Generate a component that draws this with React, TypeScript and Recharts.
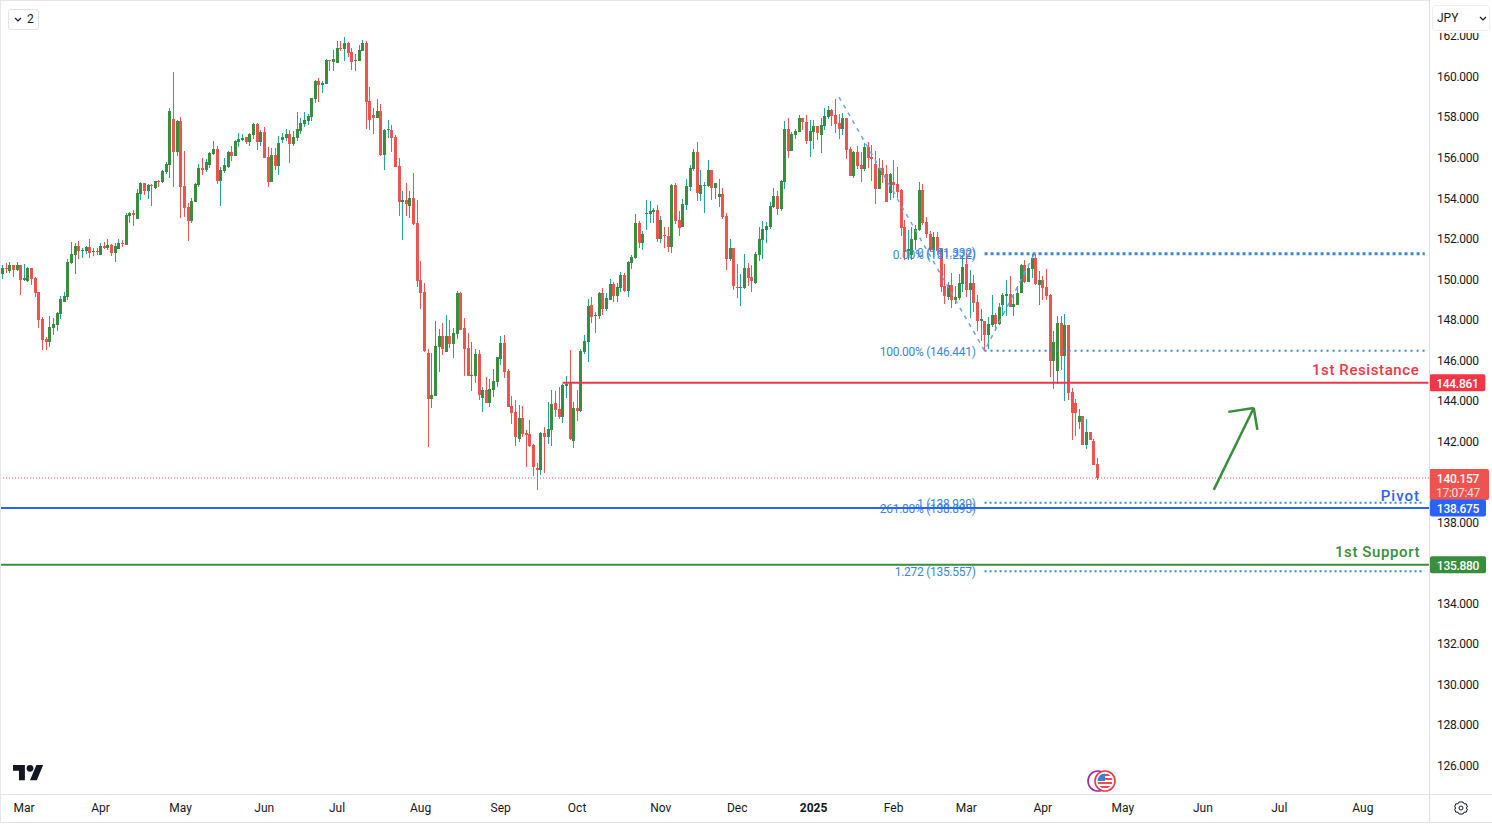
import React from 'react';
import { ComposedChart, Bar, Line, XAxis, YAxis, ReferenceLine } from 'recharts';

type Candle = [number, number, number, number]; // open, high, low, close

const candlesEarlyMar: Candle[] = [
[150.23,150.67,149.98,150.52],[150.52,150.77,150.27,150.47],[150.37,150.82,150.27,150.67],[150.67,150.67,150.08,150.42],[150.42,150.82,150.37,150.67],[150.67,150.67,149.19,149.93],
[149.93,150.72,149.88,150.03],[149.88,150.57,149.83,150.52],[150.52,150.52,149.68,149.98],[150.03,150.08,149.09,149.29],[149.34,149.34,147.56,147.96],[148.0,148.1,146.47,146.97],
[147.02,147.12,146.47,146.87],[146.87,148.15,146.62,147.61],[147.56,148.05,147.22,147.76],[147.71,148.35,147.41,148.3],[148.25,149.14,148.0,149.0],[148.84,149.34,148.84,149.14],
[149.09,150.97,148.94,150.82],[150.77,151.81,150.72,151.21],[151.16,151.76,150.23,151.61],[151.61,151.86,150.97,151.36],[151.36,151.51,151.02,151.41],[151.36,151.61,151.21,151.56],
[151.56,151.95,151.02,151.26],[151.31,151.51,151.11,151.36],[151.36,151.51,151.16,151.34],
];
const candlesApr: Candle[] = [
[151.16,151.76,151.16,151.61],[151.61,151.81,151.46,151.51],[151.51,151.95,151.41,151.66],[151.66,151.71,151.11,151.26],[151.26,151.76,150.82,151.61],[151.46,151.95,151.46,151.76],
[151.76,151.9,151.56,151.71],[151.66,153.24,151.66,153.14],[153.09,153.29,152.74,153.24],[153.24,153.39,152.6,153.14],[152.94,154.42,152.94,154.22],[154.17,154.77,153.88,154.72],
[154.72,154.72,154.13,154.32],[154.32,154.67,153.93,154.62],[154.62,154.67,153.58,154.57],[154.47,154.82,154.42,154.82],[154.83,154.87,154.52,154.77],[154.77,155.36,154.72,155.31],
[155.26,155.75,155.16,155.66],[155.61,158.42,154.97,158.27],[157.88,160.2,154.52,156.25],[156.25,157.83,156.05,157.78],
];
const candlesMay: Candle[] = [
[157.78,157.98,152.99,154.52],[154.57,156.3,153.04,153.48],[153.53,153.73,151.86,152.84],[152.84,153.98,152.74,153.83],[153.78,154.72,153.78,154.67],[154.62,155.66,154.52,155.46],
[155.46,155.95,155.11,155.36],[155.36,155.9,155.26,155.75],[155.61,156.25,155.46,156.2],[156.15,156.79,156.1,156.4],[156.4,156.54,154.67,154.82],[154.82,155.51,153.58,155.36],
[155.31,155.95,155.21,155.61],[155.51,156.3,155.46,156.25],[156.25,156.54,155.8,156.05],[156.05,156.84,156.05,156.79],[156.74,157.19,156.49,156.89],[156.84,157.14,156.79,156.94],
[156.99,156.99,156.64,156.74],[156.74,157.19,156.54,157.14],[157.09,157.68,156.89,157.63],[157.63,157.68,156.35,156.74],[156.74,157.33,156.54,157.23],
];
const candlesJun: Candle[] = [
[157.23,157.48,155.95,155.95],[156.0,156.49,154.52,154.77],[154.77,156.45,154.77,156.1],[156.1,156.45,155.36,155.56],[155.56,157.04,155.11,156.69],[156.84,157.19,156.69,156.99],
[156.94,157.38,156.79,157.14],[157.14,157.33,155.7,156.64],[156.64,157.28,156.54,156.99],[156.94,158.22,156.79,157.38],[157.28,157.93,157.14,157.68],[157.63,158.22,157.48,157.83],
[157.78,158.12,157.58,158.02],[157.98,158.91,157.78,158.91],[158.86,159.8,158.67,159.75],[159.75,159.9,158.72,159.56],[159.56,159.75,159.16,159.65],[159.6,160.84,159.6,160.79],
[160.79,160.79,160.25,160.74],[160.69,161.28,160.25,160.84],
];
const candlesJul: Candle[] = [
[160.64,161.73,160.64,161.38],[161.38,161.73,161.23,161.33],[161.33,161.92,160.74,161.63],[161.63,161.68,160.94,161.13],[161.18,161.38,160.3,160.69],[160.74,161.09,160.25,160.79],
[160.74,161.53,160.74,161.28],[161.23,161.78,161.23,161.63],[161.63,161.73,157.38,158.72],[158.77,159.46,157.33,157.83],[158.07,158.42,157.14,157.93],[157.93,158.86,157.93,158.27],
[158.27,158.62,156.05,156.1],[156.1,157.38,155.36,157.33],[157.33,157.83,156.94,157.38],[157.33,157.58,156.25,156.94],[156.99,157.09,155.51,155.51],[155.56,155.95,153.09,153.78],
[153.78,154.32,151.9,153.88],[153.88,154.72,153.09,153.68],[153.58,154.32,152.99,153.98],[153.98,155.21,152.64,152.69],[152.74,153.88,149.58,149.88],
];
const candlesAug: Candle[] = [
[149.93,150.87,148.5,149.29],[149.34,149.78,146.38,146.43],[146.33,146.52,141.69,144.06],[144.06,146.33,143.61,144.25],[144.2,147.91,144.2,146.67],[146.62,147.51,145.39,147.17],
[147.17,147.81,146.23,146.52],[146.38,148.2,146.38,147.17],[147.17,147.96,146.57,146.77],[146.77,147.56,146.08,147.31],[147.26,149.39,147.02,149.29],[149.29,149.34,147.46,147.46],
[147.56,148.05,145.19,146.52],[146.57,147.31,145.19,145.19],[145.19,146.87,144.45,145.24],[145.19,146.52,144.85,146.28],[146.28,146.47,144.01,144.25],[144.11,144.65,143.41,144.5],
[144.5,145.14,143.86,143.86],[143.86,145.04,143.66,144.55],[144.5,145.54,144.16,144.95],[144.9,146.13,144.65,146.13],
];
const candlesSep: Candle[] = [
[146.03,147.17,145.74,146.82],[146.82,147.22,145.09,145.39],[145.44,145.54,143.66,143.66],[143.71,144.2,142.82,143.37],[143.42,144.0,141.74,142.18],[142.08,143.76,141.94,143.12],
[143.12,143.71,142.18,142.33],[142.38,142.53,140.7,142.28],[142.33,143.02,141.69,141.74],[141.79,141.84,140.26,140.7],[140.65,140.9,139.56,140.55],[140.55,142.43,140.31,142.38],
[142.38,142.68,140.4,142.18],[142.18,143.91,141.84,142.58],[142.53,144.5,141.74,143.81],[143.86,144.45,143.17,143.51],[143.56,144.65,143.07,143.17],[143.17,144.8,142.87,144.75],
[144.7,145.19,144.11,144.8],[144.85,146.48,142.03,142.08],[141.98,143.91,141.64,143.61],
];
const candlesOct: Candle[] = [
[143.61,144.5,142.97,143.47],[143.47,146.52,143.42,146.43],[146.38,147.22,146.28,146.92],[146.87,148.99,145.88,148.65],[148.7,149.09,147.81,148.1],[148.15,148.35,147.32,148.2],
[148.15,149.34,148.0,149.29],[149.29,149.54,148.2,148.5],[148.5,149.29,148.4,149.04],[148.94,149.98,148.94,149.73],[149.73,149.83,148.85,149.14],[149.14,149.78,148.85,149.59],
[149.54,150.33,149.34,150.18],[150.18,150.28,149.34,149.39],[149.39,150.87,149.09,150.82],[150.77,151.17,150.47,151.07],[151.02,153.19,150.97,152.74],[152.74,152.84,151.51,151.76],
[151.76,152.35,151.41,152.2],[153.19,153.88,152.4,153.24],[153.19,153.83,152.74,153.34],[153.29,153.49,152.74,153.39],[153.39,153.63,151.81,151.96],
];
const candlesNov: Candle[] = [
[151.96,153.09,151.76,152.89],[152.15,152.55,151.51,152.1],[152.1,152.55,151.31,151.56],[151.56,154.67,151.26,154.62],[154.62,154.72,152.7,152.84],[152.89,153.34,152.1,152.5],
[152.55,153.93,152.55,153.68],[153.63,154.92,153.39,154.57],[154.52,155.61,154.32,155.46],[155.41,156.4,155.31,156.25],[156.25,156.74,153.83,154.23],[154.18,155.36,153.83,154.62],
[154.57,154.77,153.24,154.62],[154.57,155.85,154.52,155.36],[155.36,155.36,153.88,154.47],[154.47,154.72,153.93,154.72],[154.03,154.92,153.54,154.18],[154.18,154.47,152.94,153.04],
[153.09,153.24,150.43,150.97],[150.97,151.95,150.87,151.51],[151.51,151.51,149.44,149.63],
];
const candlesDec: Candle[] = [
[149.59,150.72,149.04,149.54],[149.54,150.23,148.65,149.59],[149.54,151.21,149.49,150.52],[150.52,150.77,149.63,150.03],[150.08,150.67,149.34,149.88],[149.78,151.31,149.73,151.21],
[151.16,152.55,150.87,151.95],[151.9,152.84,150.97,152.45],[152.4,152.79,151.76,152.6],[152.55,153.78,152.45,153.58],[153.53,154.47,153.48,154.08],[154.08,154.32,153.14,153.43],
[153.43,154.87,153.34,154.82],[154.77,157.78,154.42,157.38],[157.38,157.93,155.95,156.3],[156.3,157.24,156.3,157.14],[157.09,157.38,156.89,157.29],[157.24,158.07,157.24,157.93],
[157.93,157.93,157.33,157.73],[157.73,158.07,156.64,156.79],[156.79,157.83,156.0,157.29],
];
const candlesJan: Candle[] = [
[157.24,157.83,156.4,157.53],[157.53,157.53,156.84,157.19],[157.09,157.93,156.2,157.58],[157.53,158.42,157.33,158.03],[157.98,158.52,157.88,158.32],[158.32,158.37,157.53,158.03],
[158.07,158.86,157.19,157.63],[157.68,158.12,156.89,157.38],[157.38,158.17,157.09,157.93],[157.93,157.93,155.9,156.35],[156.4,156.5,155.06,155.06],[155.06,156.3,154.97,156.25],
[156.25,156.54,155.41,155.56],[155.6,156.25,154.77,155.41],[155.41,156.69,155.31,156.5],[156.5,156.74,155.46,155.95],[156.0,156.59,154.82,155.9],[155.66,156.3,153.68,154.42],
[154.42,155.95,154.42,155.46],[155.46,155.85,154.72,155.11],[155.16,155.6,153.78,153.78],[154.22,155.21,153.88,155.16],
];
const candlesFeb: Candle[] = [
[154.77,155.85,153.98,154.62],[154.67,155.51,153.98,154.27],[154.37,154.42,152.1,152.5],[152.55,152.89,150.92,151.31],[151.36,152.4,150.92,151.46],[151.16,152.55,150.92,151.95],
[151.9,152.65,151.41,152.45],[152.4,154.77,152.35,154.37],[154.37,154.67,152.65,152.74],[152.79,153.04,152.0,152.2],[152.2,152.35,151.31,151.41],[151.41,152.3,151.16,152.05],
[152.05,152.3,151.16,151.36],[151.46,151.51,149.34,149.6],[149.63,150.72,148.75,149.14],[149.09,149.83,148.94,149.68],[149.68,150.28,148.55,148.94],[148.94,149.63,148.75,149.09],
[149.04,150.23,148.94,149.78],[149.73,151.12,149.34,150.57],
];
const candlesMar25: Candle[] = [
[150.72,151.26,149.09,149.44],[149.44,150.42,148.05,149.78],[149.78,150.18,148.35,148.8],[148.84,149.19,147.41,147.91],[147.91,148.5,146.92,148.0],[147.91,147.91,146.44,147.22],
[147.22,148.1,146.52,147.76],[147.71,149.19,147.61,148.2],[148.2,148.3,147.41,147.76],[147.76,148.8,147.71,148.6],[148.7,149.29,148.15,149.19],[149.14,149.93,148.15,149.24],
[149.24,150.13,148.6,148.6],[148.6,149.24,148.15,148.75],[148.7,149.63,148.7,149.29],[149.29,150.72,149.29,150.67],[150.67,150.92,149.78,149.83],[149.83,150.62,149.83,150.52],
[150.47,151.21,150.03,151.02],[151.02,151.21,149.68,149.73],[149.68,150.37,148.7,149.93],
];
const candlesApr25: Candle[] = [
[149.93,150.13,148.94,149.54],[149.6,150.47,148.94,149.14],[149.19,149.24,145.14,145.93],[145.93,147.41,144.55,146.87],[145.44,148.15,144.8,147.81],[147.81,148.15,145.49,146.18],
[146.18,148.25,143.96,147.71],[147.71,147.71,144.01,144.35],[144.4,144.6,142.03,143.37],[143.86,144.06,142.23,143.37],[142.92,143.56,142.58,143.22],[143.22,143.22,141.79,141.79],
[141.79,143.07,141.59,142.43],[142.43,142.43,142.03,142.03],[141.98,142.08,140.8,140.8],[140.85,141.14,140.06,140.157],
];

const allCandles: Candle[] = [
  ...candlesEarlyMar, ...candlesApr, ...candlesMay, ...candlesJun, ...candlesJul, ...candlesAug, ...candlesSep,
  ...candlesOct, ...candlesNov, ...candlesDec, ...candlesJan, ...candlesFeb, ...candlesMar25, ...candlesApr25,
];

const sessionCount = 393;
const fibPathIdx = [230, 270, 284];
const fibPathPrice = [158.96, 146.441, 151.33];

const monthTickIdx = [6, 27, 49, 72, 92, 115, 137, 158, 181, 202, 223, 245, 265, 286, 308, 330, 351, 374];
const monthTickText = ['Mar', 'Apr', 'May', 'Jun', 'Jul', 'Aug', 'Sep', 'Oct', 'Nov', 'Dec', '2025', 'Feb', 'Mar', 'Apr', 'May', 'Jun', 'Jul', 'Aug'];
const priceTicks = [126, 128, 130, 132, 134, 138, 142, 144, 146, 148, 150, 152, 154, 156, 158, 160, 162];

const resistance = 144.861;
const pivot = 138.675;
const support = 135.88;
const lastPrice = 140.157;
const countdown = '17:07:47';

const rows = Array.from({ length: sessionCount }, (_, idx) => {
  const c = allCandles[idx];
  const k = fibPathIdx.indexOf(idx);
  return { idx, range: c ? [c[2], c[1]] : undefined, ohlc: c, fib: k >= 0 ? fibPathPrice[k] : undefined };
});

const FONT = 'Roboto, "Liberation Sans", sans-serif';
const UP = '#388e3c';
const UPW = '#22a598';
const DOWN = '#ef5350';
const RED = '#f23645';
const BLUE = '#2962ff';
const FIB = '#3a86d8';
const TXT = '#131722';
const TIGHT = -0.28;

function CandleShape(props: any) {
  const { x, y, width, height, payload } = props;
  const c: Candle | undefined = payload && payload.ohlc;
  if (!c || !Number.isFinite(y)) return null;
  const [o, h, l, cl] = c;
  const k = h > l ? height / (h - l) : 0;
  const col = Math.floor(x + width / 2);
  const bt = Math.round(y + (h - Math.max(o, cl)) * k);
  const bb = Math.round(y + (h - Math.min(o, cl)) * k);
  const up = cl >= o;
  return (
    <g shapeRendering="crispEdges">
      <rect x={col} y={y} width={1} height={Math.max(height, 1)} fill={up ? UPW : DOWN} />
      <rect x={col - 1} y={bt} width={3} height={Math.max(bb - bt, 1)} fill={up ? UP : DOWN} />
    </g>
  );
}

function MonthTick(props: any) {
  const { x, y, payload } = props;
  const i = monthTickIdx.indexOf(payload.value);
  const text = monthTickText[i];
  return (
    <text x={x} y={y} dy={5} textAnchor="middle" dominantBaseline="central" fontFamily={FONT} fontSize={12}
      fontWeight={text === '2025' ? 700 : 400} fill={TXT}>{text}</text>
  );
}

function PriceTick(props: any) {
  const { x, y, payload } = props;
  return (
    <text x={x} y={y} dy={1} textAnchor="start" dominantBaseline="central" fontFamily={FONT} fontSize={12}
      letterSpacing={TIGHT} fill={TXT}>{payload.value.toFixed(3)}</text>
  );
}

function PriceTag(p: any) {
  const vb = p.viewBox;
  const cy = vb.y;
  const left = vb.x + vb.width + 1;
  return (
    <g>
      {p.caption ? (
        <text x={vb.x + vb.width - 9} y={cy - 13 + (p.capDy || 0)} textAnchor="end" dominantBaseline="central" fontFamily={FONT}
          fontSize={15} fontWeight={500} letterSpacing={p.capSpacing ?? 0.6} fill={p.color}>{p.caption}</text>
      ) : null}
      <rect x={left} y={cy - 8.5} width={56} height={17} rx={2} fill={p.color} />
      <text x={left + 28} y={cy + 1} textAnchor="middle" dominantBaseline="central" fontFamily={FONT} fontSize={12}
        fontWeight={500} letterSpacing={TIGHT} fill="#ffffff">{p.text}</text>
    </g>
  );
}

function LastTag(p: any) {
  const vb = p.viewBox;
  const cy = vb.y;
  const left = vb.x + vb.width;
  return (
    <g>
      <rect x={left} y={cy - 9} width={60} height={31} rx={2} fill={DOWN} />
      <text x={left + 29} y={cy + 1} textAnchor="middle" dominantBaseline="central" fontFamily={FONT} fontSize={12}
        fontWeight={500} letterSpacing={TIGHT} fill="#ffffff">{p.text}</text>
      <text x={left + 29} y={cy + 15} textAnchor="middle" dominantBaseline="central" fontFamily={FONT} fontSize={12}
        letterSpacing={TIGHT} fill="#ffe0e0">{p.sub}</text>
    </g>
  );
}

function FibLabel(p: any) {
  const vb = p.viewBox;
  return (
    <text x={vb.x - 9} y={vb.y + 1 + (p.dy || 0)} textAnchor="end" dominantBaseline="central" fontFamily={FONT} fontSize={12}
      letterSpacing={TIGHT} fill={FIB}>{p.text}</text>
  );
}

function fibLevel(price: number, text: string, width: number, dash: string, dy = 0) {
  return (
    <ReferenceLine key={text} segment={[{ x: 270, y: price }, { x: 391, y: price }]} stroke={FIB} strokeWidth={width}
      strokeDasharray={dash} label={(p: any) => <FibLabel {...p} text={text} dy={dy} />} />
  );
}

export default function App() {
  return (
    <div style={{ position: 'absolute', left: 0, top: 0, width: 1492, height: 826, background: '#fff', overflow: 'hidden', fontFamily: FONT }}>
      <ComposedChart width={1492} height={823} data={rows} margin={{ top: 0, right: 0, bottom: 0, left: 0 }} barCategoryGap={0} barGap={0}>
        <XAxis dataKey="idx" type="category" ticks={monthTickIdx} interval={0} height={28} tickLine={false} axisLine={false}
          tick={<MonthTick />} padding={{ left: 0.5, right: -1.2 }} tickMargin={4} tickSize={4} />
        <YAxis orientation="right" width={63} domain={[124.51, 163.75]} allowDataOverflow ticks={priceTicks} interval={0}
          tickLine={false} axisLine={false} tickSize={0} tickMargin={8} tick={<PriceTick />} />
        <Line dataKey="fib" connectNulls dot={false} stroke="#6aa5e8" strokeWidth={1.5} strokeDasharray="4 5" isAnimationActive={false} legendType="none" />
        <Bar dataKey="range" shape={<CandleShape />} isAnimationActive={false} />

        {fibLevel(151.222, '0.00% (151.222)', 3, '3 3')}
        {fibLevel(151.332, '0 (151.332)', 0.01, '3 3')}
        {fibLevel(146.441, '100.00% (146.441)', 2, '2 4')}
        {fibLevel(138.93, '1 (138.930)', 2, '2 3')}
        {fibLevel(138.895, '261.80% (138.895)', 0.01, '2 3', 4)}
        {fibLevel(135.557, '1.272 (135.557)', 2, '2 3')}

        <ReferenceLine y={lastPrice} stroke={DOWN} strokeWidth={1} strokeDasharray="1 2"
          label={(p: any) => <LastTag {...p} text={lastPrice.toFixed(3)} sub={countdown} />} />
        <ReferenceLine segment={[{ x: 154, y: resistance }, { x: 392, y: resistance }]} stroke={RED} strokeWidth={2}
          label={(p: any) => <PriceTag {...p} color={RED} text={resistance.toFixed(3)} caption="1st Resistance" />} />
        <ReferenceLine y={pivot} stroke={BLUE} strokeWidth={2}
          label={(p: any) => <PriceTag {...p} color={BLUE} text={pivot.toFixed(3)} caption="Pivot" capDy={1} capSpacing={1} />} />
        <ReferenceLine y={support} stroke={UP} strokeWidth={2}
          label={(p: any) => <PriceTag {...p} color={UP} text={support.toFixed(3)} caption="1st Support" />} />

        <ReferenceLine segment={[{ x: 333, y: 139.57 }, { x: 344, y: 143.61 }]} stroke={UP} strokeWidth={2.5} />
        <ReferenceLine segment={[{ x: 337, y: 143.42 }, { x: 344, y: 143.61 }]} stroke={UP} strokeWidth={2.5} />
        <ReferenceLine segment={[{ x: 345, y: 142.53 }, { x: 344, y: 143.61 }]} stroke={UP} strokeWidth={2.5} />
      </ComposedChart>

      {/* frame */}
      <div style={{ position: 'absolute', left: 0, top: 0, width: 1492, height: 1, background: '#e8e8ea' }} />
      <div style={{ position: 'absolute', left: 0, top: 0, width: 1, height: 823, background: '#e8e8ea' }} />
      <div style={{ position: 'absolute', left: 1428.5, top: 0, width: 1, height: 823, background: '#dcdfe6' }} />
      <div style={{ position: 'absolute', left: 0, top: 794, width: 1492, height: 1, background: '#e0e3eb' }} />
      <div style={{ position: 'absolute', left: 0, top: 822, width: 1492, height: 1, background: '#e0e3eb' }} />

      {/* collapse button */}
      <div style={{ position: 'absolute', left: 8, top: 9, width: 29, height: 19, border: '1px solid #e0e3eb', borderRadius: 3, background: '#fff', fontSize: 12, color: TXT, lineHeight: '19px' }}>
        <svg width="8" height="6" style={{ position: 'absolute', left: 5, top: 7 }}><path d="M1 1 L4 4 L7 1" fill="none" stroke={TXT} strokeWidth="1.2" /></svg>
        <span style={{ position: 'absolute', left: 18 }}>2</span>
      </div>

      {/* currency button */}
      <div style={{ position: 'absolute', left: 1430, top: 0, width: 62, height: 33, background: '#fff' }} />
      <div style={{ position: 'absolute', left: 1432, top: 5, width: 56, height: 24, border: '1px solid #eceef2', borderRadius: 4, background: '#fff', fontSize: 12, color: TXT, lineHeight: '24px' }}>
        <span style={{ position: 'absolute', left: 4 }}>JPY</span>
        <svg width="8" height="6" style={{ position: 'absolute', left: 46, top: 10 }}><path d="M1 1 L4 4 L7 1" fill="none" stroke={TXT} strokeWidth="1.2" /></svg>
      </div>

      {/* logo, flag, gear */}
      <svg width="1492" height="826" style={{ position: 'absolute', left: 0, top: 0, pointerEvents: 'none' }}>
        <g transform="translate(13 761.5) scale(0.85)" fill="#131722">
          <path d="M14 22H7V11H0V4h14v18zM28 22h-8l7.5-18h8L28 22z" />
          <circle cx="20" cy="8" r="4" />
        </g>
        <circle cx="1098" cy="781" r="10" fill="#fff" stroke="#9c27b0" strokeWidth="1.6" />
        <circle cx="1105" cy="781" r="10" fill="#fff" stroke={RED} strokeWidth="1.6" />
        <clipPath id="flagclip"><circle cx="1105" cy="781" r="7.5" /></clipPath>
        <g clipPath="url(#flagclip)">
          <rect x="1097" y="773" width="16" height="16" fill="#fff" />
          <rect x="1097" y="774" width="16" height="2" fill="#f0484e" />
          <rect x="1097" y="778" width="16" height="2" fill="#f0484e" />
          <rect x="1097" y="782" width="16" height="2" fill="#f0484e" />
          <rect x="1097" y="786" width="16" height="2" fill="#f0484e" />
          <rect x="1097" y="773" width="8" height="8" fill="#3d7ddb" />
        </g>
        <g transform="translate(1461 808)" fill="none" stroke="#131722" strokeWidth="1">
          <path d="M-2 -6 H2 L3 -4.2 L5.2 -4.2 L6.4 -1 L5 0 L6.4 1 L5.2 4.2 L3 4.2 L2 6 H-2 L-3 4.2 L-5.2 4.2 L-6.4 1 L-5 0 L-6.4 -1 L-5.2 -4.2 L-3 -4.2 Z" />
          <circle r="2" />
        </g>
      </svg>
    </div>
  );
}
